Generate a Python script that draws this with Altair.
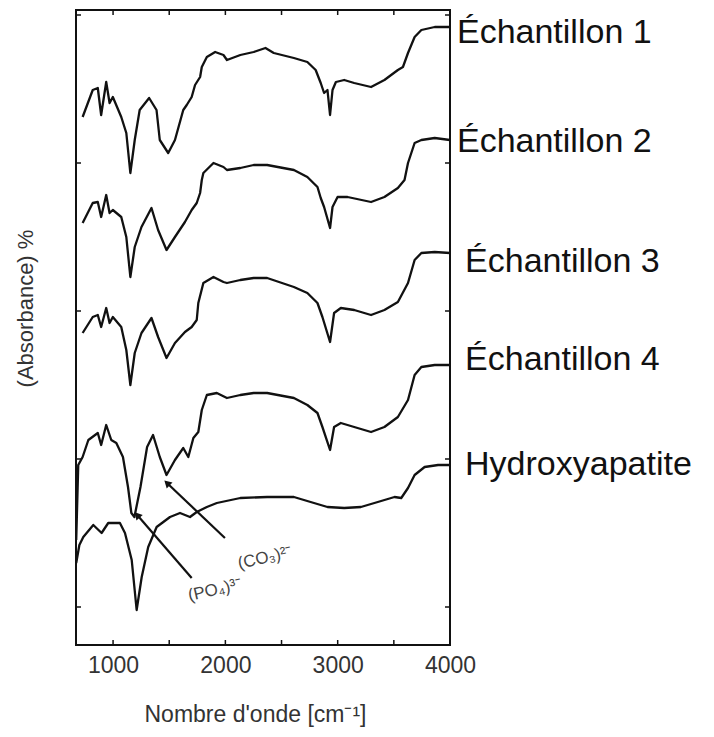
import math
import altair as alt
import pandas as pd

# ---------------- data ----------------
series_names = ["Échantillon 1", "Échantillon 2", "Échantillon 3", "Échantillon 4", "Hydroxyapatite"]

wn_ech1 = [729, 819, 864, 894, 939, 969, 998, 1073, 1118, 1154, 1193, 1237, 1321, 1387, 1416, 1491, 1551,
           1625, 1656, 1700, 1730, 1775, 1790, 1835, 1909, 1983, 2014, 2133, 2252, 2357, 2431, 2610, 2730,
           2804, 2849, 2879, 2909, 2932, 2954, 2984, 3058, 3147, 3297, 3416, 3536, 3581, 3626, 3685, 3745,
           3864, 4000]
abs_ech1 = [5.28, 5.55, 5.57, 5.30, 5.63, 5.42, 5.48, 5.28, 5.12, 4.72, 5.05, 5.35, 5.47, 5.35, 5.05, 4.92, 5.05,
            5.35, 5.40, 5.48, 5.60, 5.68, 5.78, 5.88, 5.93, 5.90, 5.85, 5.90, 5.93, 5.97, 5.92, 5.87, 5.83,
            5.75, 5.62, 5.52, 5.55, 5.30, 5.55, 5.63, 5.65, 5.62, 5.58, 5.65, 5.75, 5.78, 5.92, 6.08, 6.15,
            6.18, 6.18]

wn_ech2 = [729, 819, 864, 894, 939, 969, 998, 1073, 1118, 1154, 1193, 1253, 1342, 1401, 1476, 1551,
           1640, 1700, 1745, 1775, 1790, 1804, 1894, 1983, 2014, 2133, 2252, 2372, 2610, 2730, 2820, 2849,
           2879, 2932, 2954, 2999, 3088, 3297, 3416, 3536, 3595, 3626, 3685, 3745, 3864, 4000]
abs_ech2 = [4.22, 4.42, 4.43, 4.28, 4.50, 4.32, 4.35, 4.28, 4.08, 3.68, 3.98, 4.18, 4.37, 4.15, 3.95, 4.08,
            4.23, 4.35, 4.42, 4.52, 4.65, 4.72, 4.82, 4.78, 4.75, 4.77, 4.80, 4.80, 4.75, 4.68, 4.58, 4.47,
            4.38, 4.17, 4.38, 4.48, 4.48, 4.43, 4.48, 4.57, 4.65, 4.82, 5.02, 5.05, 5.07, 5.05]

wn_ech3 = [729, 819, 864, 894, 939, 969, 998, 1073, 1118, 1154, 1193, 1253, 1342, 1401, 1476, 1551,
           1640, 1700, 1745, 1759, 1804, 1894, 1983, 2014, 2133, 2252, 2372, 2610, 2730, 2820, 2864, 2932,
           2968, 3028, 3147, 3297, 3416, 3536, 3626, 3685, 3745, 3864, 4000]
abs_ech3 = [3.12, 3.28, 3.30, 3.18, 3.37, 3.22, 3.28, 3.18, 2.95, 2.60, 2.92, 3.12, 3.27, 3.08, 2.87, 3.02,
            3.13, 3.18, 3.25, 3.42, 3.62, 3.68, 3.63, 3.62, 3.65, 3.67, 3.67, 3.58, 3.52, 3.42, 3.28, 3.03,
            3.32, 3.37, 3.35, 3.30, 3.35, 3.43, 3.62, 3.85, 3.92, 3.93, 3.92]

wn_ech4 = [672, 690, 729, 780, 864, 894, 939, 984, 1029, 1088, 1133, 1163, 1190, 1244, 1303, 1356, 1416,
           1476, 1551, 1625, 1670, 1715, 1759, 1790, 1835, 1924, 2014, 2133, 2252, 2372, 2610, 2730, 2820,
           2864, 2932, 2968, 3028, 3147, 3297, 3416, 3536, 3626, 3685, 3745, 3864, 4000]
abs_ech4 = [1.05, 1.80, 1.88, 2.05, 2.12, 2.00, 2.20, 2.05, 2.02, 1.88, 1.58, 1.32, 1.28, 1.58, 1.98, 2.10, 1.88,
            1.70, 1.85, 1.97, 1.88, 2.07, 2.13, 2.35, 2.50, 2.52, 2.47, 2.50, 2.52, 2.52, 2.47, 2.40, 2.32,
            2.18, 1.95, 2.18, 2.22, 2.18, 2.13, 2.18, 2.28, 2.45, 2.70, 2.78, 2.80, 2.80]

wn_hap = [672, 700, 735, 824, 898, 957, 1061, 1106, 1166, 1210, 1255, 1313, 1388, 1507, 1596, 1685, 1745,
          1835, 1924, 2133, 2372, 2610, 2789, 2909, 3058, 3207, 3357, 3506, 3566, 3626, 3685, 3774, 3894, 4000]
abs_hap = [0.82, 1.00, 1.08, 1.20, 1.12, 1.22, 1.22, 1.12, 0.85, 0.35, 0.68, 0.98, 1.18, 1.28, 1.32, 1.28, 1.33,
           1.38, 1.42, 1.47, 1.48, 1.48, 1.42, 1.38, 1.37, 1.38, 1.43, 1.48, 1.47, 1.57, 1.70, 1.78, 1.80, 1.80]

# series labels at the right of the frame
label_wn = [4062, 4062, 4134, 4134, 4134]
label_abs = [6.02, 4.93, 3.73, 2.75, 1.70]

# annotation arrows
arrow_labels = ["(PO₄)³⁻", "(CO₃)²⁻"]
arrow_tail_wn = [1700, 1996]
arrow_tail_abs = [0.67, 1.07]
arrow_head_wn = [1215, 1480]
arrow_head_abs = [1.30, 1.62]
arrow_text_wn = [1907, 2353]
arrow_text_abs = [0.55, 0.87]

# axis ticks
x_tick_values = [1000, 1500, 2000, 2500, 3000, 3500, 4000]
x_label_values = [1000, 2000, 3000, 4000]
y_tick_values = [0.38, 1.86, 3.34, 4.82, 6.30]

# ---------------- chart ----------------
W, H = 374, 635
X_DOM = [670, 4000]
Y_DOM = [0, 6.35]
ink = "#111111"
FONT = "Liberation Sans"

x_scale = alt.Scale(domain=X_DOM, nice=False, zero=False)
y_scale = alt.Scale(domain=Y_DOM, nice=False, zero=False)

rows = []
for name, xs, ys in zip(series_names,
                        [wn_ech1, wn_ech2, wn_ech3, wn_ech4, wn_hap],
                        [abs_ech1, abs_ech2, abs_ech3, abs_ech4, abs_hap]):
    for i, (xv, yv) in enumerate(zip(xs, ys)):
        rows.append({"serie": name, "wn": xv, "a": yv, "i": i})
curves = pd.DataFrame(rows)

lines = alt.Chart(curves).mark_line(color=ink, strokeWidth=2.3, clip=True, strokeJoin="round").encode(
    x=alt.X("wn:Q", scale=x_scale,
            axis=alt.Axis(values=x_label_values, format="d", ticks=False, domain=False, grid=False,
                          labelFont=FONT, labelFontSize=23, labelColor="#333", labelPadding=9,
                          labelFlush=False,
                          title="Nombre d'onde [cm⁻¹]", titleFont=FONT, titleFontSize=23,
                          titleFontWeight="normal", titleColor="#333",
                          titleX=179, titleY=76, titleAlign="center", titleBaseline="alphabetic")),
    y=alt.Y("a:Q", scale=y_scale,
            axis=alt.Axis(labels=False, ticks=False, domain=False, grid=False,
                          title="(Absorbance) %", titleFont=FONT, titleFontSize=22,
                          titleFontWeight="normal", titleColor="#333", titleAngle=270,
                          titleX=-51, titleY=298, titleAlign="center", titleBaseline="middle")),
    detail="serie:N",
    order="i:Q",
)

xt = pd.DataFrame({"wn": x_tick_values})
yt = pd.DataFrame({"a": y_tick_values})
tick_style = dict(color=ink, strokeWidth=1.5)
ticks_bottom = alt.Chart(xt).mark_rule(**tick_style).encode(
    x=alt.X("wn:Q", scale=x_scale), y=alt.value(H), y2=alt.value(H - 5))
ticks_top = alt.Chart(xt).mark_rule(**tick_style).encode(
    x=alt.X("wn:Q", scale=x_scale), y=alt.value(0), y2=alt.value(5))
ticks_left = alt.Chart(yt).mark_rule(**tick_style).encode(
    y=alt.Y("a:Q", scale=y_scale), x=alt.value(0), x2=alt.value(5))
ticks_right = alt.Chart(yt).mark_rule(**tick_style).encode(
    y=alt.Y("a:Q", scale=y_scale), x=alt.value(W), x2=alt.value(W - 5))

labels_df = pd.DataFrame({"wn": label_wn, "a": label_abs, "label": series_names})
labels = alt.Chart(labels_df).mark_text(
    align="left", baseline="alphabetic", font=FONT, fontSize=34, color=ink
).encode(x=alt.X("wn:Q", scale=x_scale), y=alt.Y("a:Q", scale=y_scale), text="label:N")


def to_px(wn, a):
    px = (wn - X_DOM[0]) / (X_DOM[1] - X_DOM[0]) * W
    py = H - (a - Y_DOM[0]) / (Y_DOM[1] - Y_DOM[0]) * H
    return px, py


angles = []
for tw, ta, hw, ha in zip(arrow_tail_wn, arrow_tail_abs, arrow_head_wn, arrow_head_abs):
    tx, ty = to_px(tw, ta)
    hx, hy = to_px(hw, ha)
    ang = math.degrees(math.atan2(hx - tx, -(hy - ty))) % 360
    angles.append(ang)

arrows_df = pd.DataFrame({
    "wn": arrow_tail_wn, "a": arrow_tail_abs,
    "wn2": arrow_head_wn, "a2": arrow_head_abs,
    "ang": angles, "label": arrow_labels,
    "twn": arrow_text_wn, "ta": arrow_text_abs,
})
arrow_lines = alt.Chart(arrows_df).mark_rule(color=ink, strokeWidth=2.2).encode(
    x=alt.X("wn:Q", scale=x_scale), x2="wn2:Q",
    y=alt.Y("a:Q", scale=y_scale), y2="a2:Q")
arrow_heads = alt.Chart(arrows_df).mark_point(
    shape="triangle-up", filled=True, size=70, color=ink, opacity=1
).encode(
    x=alt.X("wn2:Q", scale=x_scale), y=alt.Y("a2:Q", scale=y_scale),
    angle=alt.Angle("ang:Q", scale=None))
arrow_text = alt.Chart(arrows_df).mark_text(
    angle=347, font=FONT, fontSize=17, color="#444", align="center", baseline="middle"
).encode(x=alt.X("twn:Q", scale=x_scale), y=alt.Y("ta:Q", scale=y_scale), text="label:N")

chart = alt.layer(
    lines, ticks_bottom, ticks_top, ticks_left, ticks_right,
    labels, arrow_lines, arrow_heads, arrow_text
).properties(
    width=W, height=H,
    autosize=alt.AutoSizeParams(type="none"),
    padding={"left": 76, "top": 10, "right": 264, "bottom": 92},
    background="white",
).configure_view(
    stroke=ink, strokeWidth=2
)

chart.save("out.html", embed_options={"renderer": "svg", "actions": False})
